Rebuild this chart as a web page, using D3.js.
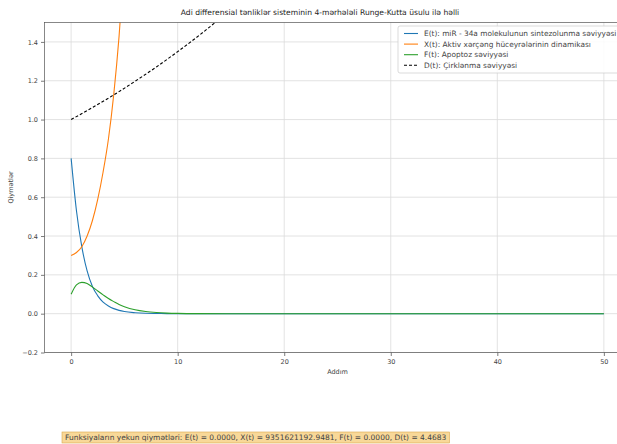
<!DOCTYPE html>
<html>
<head>
<meta charset="utf-8">
<script src="https://cdn.jsdelivr.net/npm/d3@7"></script>
<style>
  body { margin: 0; background: #fff; }
  svg { font-family: "DejaVu Sans", sans-serif; }
</style>
</head>
<body>
<svg id="chart" width="617" height="444"></svg>
<script>
const steps = [0, 0.5, 1, 1.5, 2, 2.5, 3, 3.5, 4, 4.5, 5, 6, 7, 8, 9, 10, 12, 15, 20, 25, 30, 35, 40, 45, 50]

// E(t): miR-34a synthesis level
const seriesE = [0.80, 0.53, 0.345, 0.22, 0.14, 0.092, 0.06, 0.04, 0.026, 0.017, 0.011, 0.005, 0.002, 0.001, 0.0005, 0.0002, 0, 0, 0, 0, 0, 0, 0, 0, 0]
// F(t): apoptosis level
const seriesF = [0.10, 0.148, 0.161, 0.155, 0.137, 0.117, 0.097, 0.078, 0.062, 0.047, 0.036, 0.02, 0.011, 0.006, 0.003, 0.0015, 0.0004, 0, 0, 0, 0, 0, 0, 0, 0]
// X(t): active cancer cells (leaves the plot quickly)
const stepsX = [0, 0.5, 1, 1.5, 2, 2.5, 3, 3.5, 4, 4.5, 5, 5.5, 6]
const seriesX = [0.30, 0.315, 0.345, 0.40, 0.48, 0.59, 0.73, 0.90, 1.13, 1.43, 1.82, 2.3, 2.95]
// D(t): pollution level
const stepsD = [0, 2, 4, 6, 8, 10, 12, 14, 16]
const seriesD = [1.0, 1.062, 1.127, 1.197, 1.271, 1.35, 1.433, 1.522, 1.616]

const xTicks = [0, 10, 20, 30, 40, 50]
const yTicks = [-0.2, 0.0, 0.2, 0.4, 0.6, 0.8, 1.0, 1.2, 1.4]

const legendLabels = [
  "E(t): miR - 34a molekulunun sintezolunma səviyyəsi",
  "X(t): Aktiv xərçəng hüceyrələrinin dinamikası",
  "F(t): Apoptoz səviyyəsi",
  "D(t): Çirklənma səviyyəsi"
]
const finalText = "Funksiyaların yekun qiymətləri: E(t) = 0.0000, X(t) = 9351621192.9481, F(t) = 0.0000, D(t) = 4.4683"

const svg = d3.select("#chart")
const plotLeft = 44.5, plotRight = 630.5, plotTop = 22.5, plotBottom = 352.5

const x = d3.scaleLinear().domain([-2.5, 52.5]).range([plotLeft, plotRight])
const y = d3.scaleLinear().domain([-0.2, 1.5]).range([plotBottom, plotTop])

// Grid lines
const grid = svg.append("g").attr("stroke", "#dcdcdc").attr("stroke-width", 0.8)
xTicks.forEach(t => grid.append("line").attr("x1", x(t)).attr("x2", x(t)).attr("y1", plotTop).attr("y2", plotBottom))
yTicks.forEach(t => grid.append("line").attr("y1", y(t)).attr("y2", y(t)).attr("x1", plotLeft).attr("x2", plotRight))

// Clip region for the curves
svg.append("clipPath").attr("id", "clip")
  .append("rect").attr("x", plotLeft).attr("y", plotTop).attr("width", plotRight - plotLeft).attr("height", plotBottom - plotTop)

const line = d3.line().x(d => x(d[0])).y(d => y(d[1])).curve(d3.curveMonotoneX)
const plot = svg.append("g").attr("clip-path", "url(#clip)")

const curves = [
  {xs: steps, ys: seriesE, color: "#1f77b4", dash: null},
  {xs: stepsX, ys: seriesX, color: "#ff7f0e", dash: null},
  {xs: steps, ys: seriesF, color: "#2ca02c", dash: null},
  {xs: stepsD, ys: seriesD, color: "#000", dash: "3,2"}
]
curves.forEach(c => {
  plot.append("path")
    .attr("d", line(c.xs.map((t, i) => [t, c.ys[i]])))
    .attr("fill", "none")
    .attr("stroke", c.color)
    .attr("stroke-width", 1.1)
    .attr("stroke-dasharray", c.dash)
})

// Axes
const xAxis = svg.append("g").attr("transform", `translate(0,${plotBottom})`)
  .call(d3.axisBottom(x).tickValues(xTicks).tickSize(3.5).tickPadding(3).tickFormat(d3.format("d")))
const yAxis = svg.append("g").attr("transform", `translate(${plotLeft},0)`)
  .call(d3.axisLeft(y).tickValues(yTicks).tickSize(3.5).tickPadding(3)
    .tickFormat(d => d < 0 ? "−" + d3.format(".1f")(-d) : d3.format(".1f")(d)))
;[xAxis, yAxis].forEach(a => {
  a.select(".domain").remove()
  a.selectAll("line").attr("stroke", "#444").attr("stroke-width", 0.7)
  a.selectAll("text").attr("fill", "#444").attr("font-size", 6.5).attr("font-family", "DejaVu Sans")
})

// Spines
svg.append("rect").attr("x", plotLeft).attr("y", plotTop).attr("width", plotRight - plotLeft).attr("height", plotBottom - plotTop)
  .attr("fill", "none").attr("stroke", "#555").attr("stroke-width", 0.7)

// Title and axis labels
svg.append("text").attr("x", 320).attr("y", 15).attr("text-anchor", "middle")
  .attr("font-size", 7.6).attr("fill", "#222")
  .text("Adi differensial tənliklər sisteminin 4-mərhələli Runge-Kutta üsulu ilə həlli")
svg.append("text").attr("x", (plotLeft + plotRight) / 2).attr("y", 374).attr("text-anchor", "middle")
  .attr("font-size", 6.5).attr("fill", "#444").text("Addım")
svg.append("text").attr("transform", `translate(13,${(plotTop + plotBottom) / 2}) rotate(-90)`)
  .attr("text-anchor", "middle").attr("font-size", 6.5).attr("fill", "#444").text("Qiymətlər")

// Legend
const legend = svg.append("g").attr("transform", "translate(398,26)")
legend.append("rect").attr("width", 240).attr("height", 47).attr("rx", 2)
  .attr("fill", "rgba(255,255,255,0.85)").attr("stroke", "#ccc").attr("stroke-width", 0.7)
curves.forEach((c, i) => {
  const ly = 7.5 + i * 10.6
  legend.append("line").attr("x1", 6).attr("x2", 20).attr("y1", ly).attr("y2", ly)
    .attr("stroke", c.color).attr("stroke-width", 1.1).attr("stroke-dasharray", c.dash)
  legend.append("text").attr("x", 26).attr("y", ly + 2.5).attr("font-size", 7.4).attr("fill", "#444")
    .text(legendLabels[i])
})

// Final values box
const box = svg.append("g")
const ft = box.append("text").attr("x", 65).attr("y", 440).attr("font-size", 7.5).attr("fill", "#444").text(finalText)
const bb = ft.node().getBBox()
box.insert("rect", "text").attr("x", bb.x - 3).attr("y", bb.y - 1).attr("width", bb.width + 6).attr("height", bb.height + 2)
  .attr("fill", "#f8d898").attr("stroke", "#d9a84e").attr("stroke-width", 0.6)
</script>
</body>
</html>
